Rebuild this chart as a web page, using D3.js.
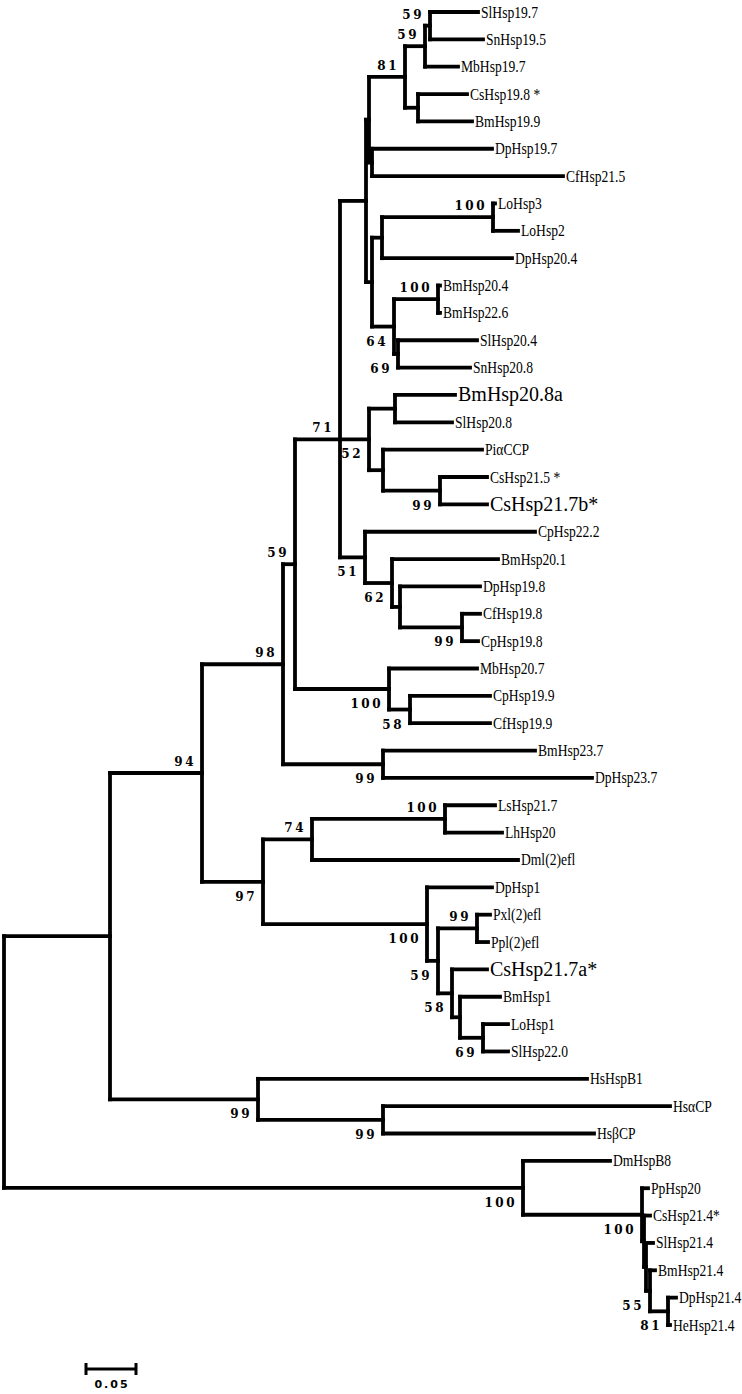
<!DOCTYPE html>
<html><head><meta charset="utf-8">
<script src="https://cdn.jsdelivr.net/npm/d3@7"></script>
<style>body{margin:0;background:#fff}svg{display:block}</style>
</head><body>
<svg id="c" width="742" height="1394"></svg>
<script>
// [node, parent, branch length (subst./site), bootstrap, label side a=above b=below]
const tree = [
 ["R", null, 0, null, ""],
 ["N110","R",0.106,null,""],
 ["N94","N110",0.092,94,"a"],
 ["N98","N94",0.081,98,"a"],
 ["N59","N98",0.012,59,"a"],
 ["A71","N59",0.045,71,"a"],
 ["n1","A71",0.026,null,""],
 ["f1","n1",0.003,null,""],
 ["d81","f1",0.036,81,"a"],
 ["b59","d81",0.020,59,"a"],
 ["a59","b59",0.005,59,"a"],
 ["SlHsp19.7","a59",0.048,null,""],
 ["SnHsp19.5","a59",0.053,null,""],
 ["MbHsp19.7","b59",0.033,null,""],
 ["c1","d81",0.013,null,""],
 ["CsHsp19.8 *","c1",0.049,null,""],
 ["BmHsp19.9","c1",0.054,null,""],
 ["m1","f1",0.003,null,""],
 ["DpHsp19.7","m1",0.120,null,""],
 ["CfHsp21.5","m1",0.191,null,""],
 ["l1","n1",0.006,null,""],
 ["i1","l1",0.010,null,""],
 ["h100","i1",0.111,100,"a"],
 ["LoHsp3","h100",0.002,null,""],
 ["LoHsp2","h100",0.025,null,""],
 ["DpHsp20.4","i1",0.130,null,""],
 ["k64","l1",0.022,64,"b"],
 ["j100","k64",0.044,100,"a"],
 ["BmHsp20.4","j100",0.002,null,""],
 ["BmHsp22.6","j100",0.002,null,""],
 ["k69","k64",0.004,69,"b"],
 ["SlHsp20.4","k69",0.079,null,""],
 ["SnHsp20.8","k69",0.072,null,""],
 ["B52","A71",0.029,52,"b"],
 ["p1","B52",0.026,null,""],
 ["BmHsp20.8a","p1",0.060,null,""],
 ["SlHsp20.8","p1",0.057,null,""],
 ["q1","B52",0.014,null,""],
 ["PiαCCP","q1",0.099,null,""],
 ["r99","q1",0.057,99,"b"],
 ["CsHsp21.5 *","r99",0.047,null,""],
 ["CsHsp21.7b*","r99",0.047,null,""],
 ["C51","A71",0.025,51,"b"],
 ["CpHsp22.2","C51",0.170,null,""],
 ["s62","C51",0.027,62,"b"],
 ["BmHsp20.1","s62",0.106,null,""],
 ["t1","s62",0.008,null,""],
 ["DpHsp19.8","t1",0.080,null,""],
 ["u99","t1",0.062,99,"b"],
 ["CfHsp19.8","u99",0.018,null,""],
 ["CpHsp19.8","u99",0.016,null,""],
 ["v100","N59",0.094,100,"b"],
 ["MbHsp20.7","v100",0.088,null,""],
 ["w58","v100",0.021,58,"b"],
 ["CpHsp19.9","w58",0.080,null,""],
 ["CfHsp19.9","w58",0.080,null,""],
 ["N99","N98",0.100,99,"b"],
 ["BmHsp23.7","N99",0.152,null,""],
 ["DpHsp23.7","N99",0.209,null,""],
 ["N97","N94",0.061,97,"b"],
 ["N74","N97",0.049,74,"a"],
 ["L100","N74",0.133,100,"a"],
 ["LsHsp21.7","L100",0.050,null,""],
 ["LhHsp20","L100",0.057,null,""],
 ["Dml(2)efl","N74",0.206,null,""],
 ["x100","N97",0.164,100,"b"],
 ["DpHsp1","x100",0.065,null,""],
 ["x59","x100",0.011,59,"b"],
 ["P99","x59",0.039,99,"a"],
 ["Pxl(2)efl","P99",0.013,null,""],
 ["Ppl(2)efl","P99",0.011,null,""],
 ["x58","x59",0.014,58,"b"],
 ["CsHsp21.7a*","x58",0.035,null,""],
 ["y1","x58",0.008,null,""],
 ["BmHsp1","y1",0.040,null,""],
 ["z69","y1",0.023,69,"b"],
 ["LoHsp1","z69",0.025,null,""],
 ["SlHsp22.0","z69",0.025,null,""],
 ["HB99","N110",0.148,99,"b"],
 ["HsHspB1","HB99",0.329,null,""],
 ["HC99","HB99",0.125,99,"b"],
 ["HsαCP","HC99",0.287,null,""],
 ["HsβCP","HC99",0.211,null,""],
 ["D100","R",0.519,100,"b"],
 ["DmHspB8","D100",0.087,null,""],
 ["e100","D100",0.119,100,"b"],
 ["PpHsp20","e100",0.006,null,""],
 ["d1","e100",0.002,null,""],
 ["CsHsp21.4*","d1",0.006,null,""],
 ["c2","d1",0.002,null,""],
 ["SlHsp21.4","c2",0.007,null,""],
 ["b55","c2",0.004,55,"b"],
 ["BmHsp21.4","b55",0.005,null,""],
 ["a81","b55",0.018,81,"b"],
 ["DpHsp21.4","a81",0.008,null,""],
 ["HeHsp21.4","a81",0.002,null,""]
];
const largeLabels = ["BmHsp20.8a","CsHsp21.7b*","CsHsp21.7a*"];
const scaleBarValue = 0.05;
const scaleBarText = "0.05";

const svg = d3.select("#c");
const root = d3.stratify().id(d => d[0]).parentId(d => d[1])(tree);
root.eachBefore(n => { n.dist = n.parent ? n.parent.dist + n.data[2] : 0; });
const leaves = root.leaves();
const x = d3.scaleLinear().domain([0, scaleBarValue]).range([4, 54]);
const y = d3.scaleLinear().domain([0, leaves.length - 1]).range([12, 1325]);
leaves.forEach((l, i) => l.py = y(i));
root.eachAfter(n => {
  n.px = x(n.dist);
  if (n.children) {
    const k = n.children.length;
    n.py = (k % 2 === 1) ? n.children[(k - 1) / 2].py
         : (n.children[0].py + n.children[k - 1].py) / 2;
  }
});

const g = svg.append("g").attr("fill", "none").attr("stroke", "#000")
  .attr("stroke-width", 3.8).attr("stroke-linecap", "square");
root.descendants().forEach(n => {
  if (n.parent) {
    g.append("line").attr("x1", n.parent.px).attr("x2", n.px)
      .attr("y1", n.py).attr("y2", n.py);
  }
  if (n.children) {
    g.append("line").attr("x1", n.px).attr("x2", n.px)
      .attr("y1", n.children[0].py).attr("y2", n.children[n.children.length - 1].py);
  }
});

// leaf labels
leaves.forEach(l => {
  const big = largeLabels.includes(l.id);
  svg.append("text")
    .attr("transform", `translate(${l.px + 3},${l.py + (big ? 6.5 : 5.5)}) scale(${big ? 1 : 0.8},1)`)
    .attr("font-family", "Liberation Serif, Times New Roman, serif")
    .attr("font-size", big ? 20 : 17)
    .attr("fill", "#000")
    .text(l.id);
});

// bootstrap values
root.descendants().filter(n => n.data[3] != null).forEach(n => {
  svg.append("text")
    .attr("x", n.px - 6)
    .attr("y", n.data[4] === "a" ? n.py - 7 : n.py + 19)
    .attr("text-anchor", "end")
    .attr("font-family", "DejaVu Serif, serif")
    .attr("font-weight", "bold")
    .attr("font-size", 12)
    .attr("letter-spacing", 2.5)
    .attr("fill", "#000")
    .text(n.data[3]);
});

// scale bar
const sb = svg.append("g").attr("stroke", "#000").attr("stroke-width", 3);
const sx0 = 86, sx1 = sx0 + (x(scaleBarValue) - x(0)), sy = 1369;
sb.append("line").attr("x1", sx0).attr("x2", sx1).attr("y1", sy).attr("y2", sy);
sb.append("line").attr("x1", sx0).attr("x2", sx0).attr("y1", sy - 6).attr("y2", sy + 6);
sb.append("line").attr("x1", sx1).attr("x2", sx1).attr("y1", sy - 6).attr("y2", sy + 6);
svg.append("text").attr("x", (sx0 + sx1) / 2 + 1).attr("y", sy + 19)
  .attr("text-anchor", "middle").attr("font-family", "DejaVu Sans, sans-serif")
  .attr("font-weight", "bold").attr("font-size", 11).attr("letter-spacing", 2)
  .attr("fill", "#000").text(scaleBarText);
</script>
</body></html>
